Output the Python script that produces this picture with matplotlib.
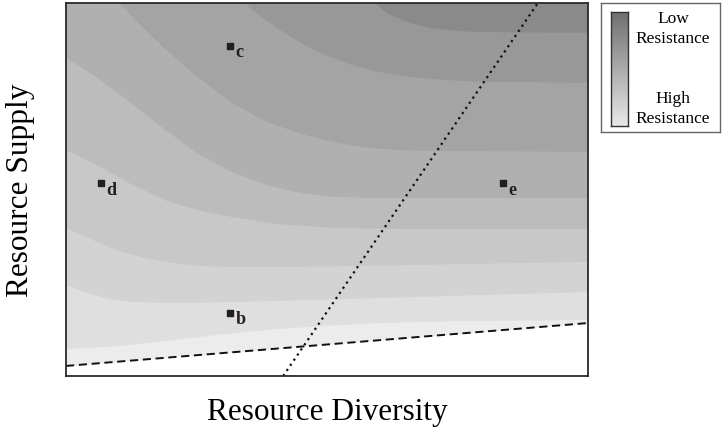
import numpy as np
import matplotlib.pyplot as plt
from matplotlib.colors import LinearSegmentedColormap

plt.rcParams['font.family'] = ['Liberation Serif', 'DejaVu Serif']

# band boundaries, (diversity, supply) on 0-1 axes
# listed from the darkest band edge (top right) down to the lightest
bounds = [
    [(0.59, 1.0), (0.62, 0.969), (0.66, 0.946), (0.70, 0.933), (0.75, 0.925), (0.80, 0.922), (1.0, 0.920)],
    [(0.342, 1.0), (0.38, 0.957), (0.42, 0.918), (0.46, 0.885), (0.50, 0.858), (0.55, 0.833),
     (0.60, 0.815), (0.66, 0.802), (0.72, 0.794), (0.80, 0.789), (1.0, 0.786)],
    [(0.102, 1.0), (0.14, 0.945), (0.188, 0.879), (0.25, 0.804), (0.318, 0.732), (0.38, 0.684),
     (0.45, 0.649), (0.52, 0.625), (0.58, 0.611), (0.65, 0.605), (0.713, 0.603), (1.0, 0.601)],
    [(0.0, 0.853), (0.06, 0.80), (0.121, 0.735), (0.19, 0.66), (0.253, 0.595), (0.32, 0.545),
     (0.385, 0.512), (0.45, 0.490), (0.515, 0.480), (0.6, 0.477), (1.0, 0.477)],
    [(0.0, 0.606), (0.06, 0.565), (0.12, 0.518), (0.188, 0.472), (0.25, 0.445), (0.318, 0.426),
     (0.40, 0.408), (0.515, 0.397), (0.65, 0.394), (1.0, 0.394)],
    [(0.0, 0.397), (0.05, 0.365), (0.10, 0.335), (0.15, 0.316), (0.188, 0.306), (0.25, 0.296),
     (0.318, 0.292), (0.45, 0.293), (0.6, 0.296), (0.8, 0.301), (1.0, 0.306)],
    [(0.0, 0.244), (0.04, 0.222), (0.08, 0.207), (0.121, 0.199), (0.18, 0.196), (0.253, 0.196),
     (0.4, 0.201), (0.6, 0.209), (0.8, 0.217), (1.0, 0.225)],
    [(0.0, 0.072), (0.1, 0.080), (0.2, 0.095), (0.3, 0.112), (0.4, 0.125), (0.5, 0.135),
     (0.6, 0.142), (0.75, 0.147), (1.0, 0.150)],
]
band_colors = ['#8a8a8a', '#989898', '#a4a4a4', '#b0b0b0', '#bcbcbc', '#c8c8c8',
               '#d3d3d3', '#dfdfdf', '#ececec']

# labelled sites
site_names = ['c', 'd', 'e', 'b']
site_x = [0.314, 0.067, 0.837, 0.314]
site_y = [0.885, 0.517, 0.517, 0.169]

# reference lines
dotted_x = [0.416, 0.904]
dotted_y = [0.0, 1.0]
dashed_x = [0.0, 1.0]
dashed_y = [0.027, 0.142]

fig = plt.figure(figsize=(7.25, 4.37), dpi=100)
ax = fig.add_axes([66 / 725, 1 - 376 / 437, 522 / 725, 373 / 437])
ax.set_xlim(0, 1)
ax.set_ylim(0, 1)
ax.set_facecolor(band_colors[0])

# paint each band as the area below its upper edge
for pts, col in zip(bounds, band_colors[1:]):
    xs = [p[0] for p in pts]
    ys = [p[1] for p in pts]
    if xs[0] > 0:
        xs = [0] + xs
        ys = [1] + ys
    xs = xs + [1, 0]
    ys = ys + [0, 0]
    ax.fill(xs, ys, color=col, lw=0)

ax.fill_between(dashed_x, dashed_y, 0, color='white', lw=0)
ax.plot(dashed_x, dashed_y, color='#111111', lw=1.4, linestyle=(0, (4.2, 2.4)))
ax.plot(dotted_x, dotted_y, color='#111111', lw=1.6, linestyle=(0, (1, 1.8)))

ax.scatter(site_x, site_y, marker='s', s=24, color='#231f20', zorder=5)
for n, x, y in zip(site_names, site_x, site_y):
    ax.annotate(n, (x, y), xytext=(4, -5), textcoords='offset points',
                fontsize=13, fontweight='bold', ha='left', va='center', color='#231f20')

ax.set_xticks([])
ax.set_yticks([])
for s in ax.spines.values():
    s.set_linewidth(1.3)
    s.set_color('#2a2a2a')

fig.text(327 / 725, 1 - 420 / 437, 'Resource Diversity', fontsize=22.5,
         ha='center', va='baseline')
fig.text(21 / 725, 1 - 190 / 437, 'Resource Supply', fontsize=22.5,
         rotation=90, ha='center', va='center')

# legend box with grey ramp
lax = fig.add_axes([601 / 725, 1 - 132 / 437, 119 / 725, 129 / 437])
lax.set_xticks([])
lax.set_yticks([])
for s in lax.spines.values():
    s.set_linewidth(1.0)
    s.set_color('#666666')

cax = fig.add_axes([611 / 725, 1 - 126 / 437, 17 / 725, 114 / 437])
ramp = LinearSegmentedColormap.from_list('ramp', ['#6e6e6e', '#e8e8e8'])
cax.imshow(np.linspace(0, 1, 200).reshape(-1, 1), aspect='auto', cmap=ramp)
cax.set_xticks([])
cax.set_yticks([])
for s in cax.spines.values():
    s.set_linewidth(1.0)
    s.set_color('#333333')

fig.text(673 / 725, 1 - 29 / 437, 'Low\nResistance', fontsize=12.5,
         ha='center', va='center', linespacing=1.35)
fig.text(673 / 725, 1 - 109 / 437, 'High\nResistance', fontsize=12.5,
         ha='center', va='center', linespacing=1.35)

fig.savefig('out.png', dpi=100)
